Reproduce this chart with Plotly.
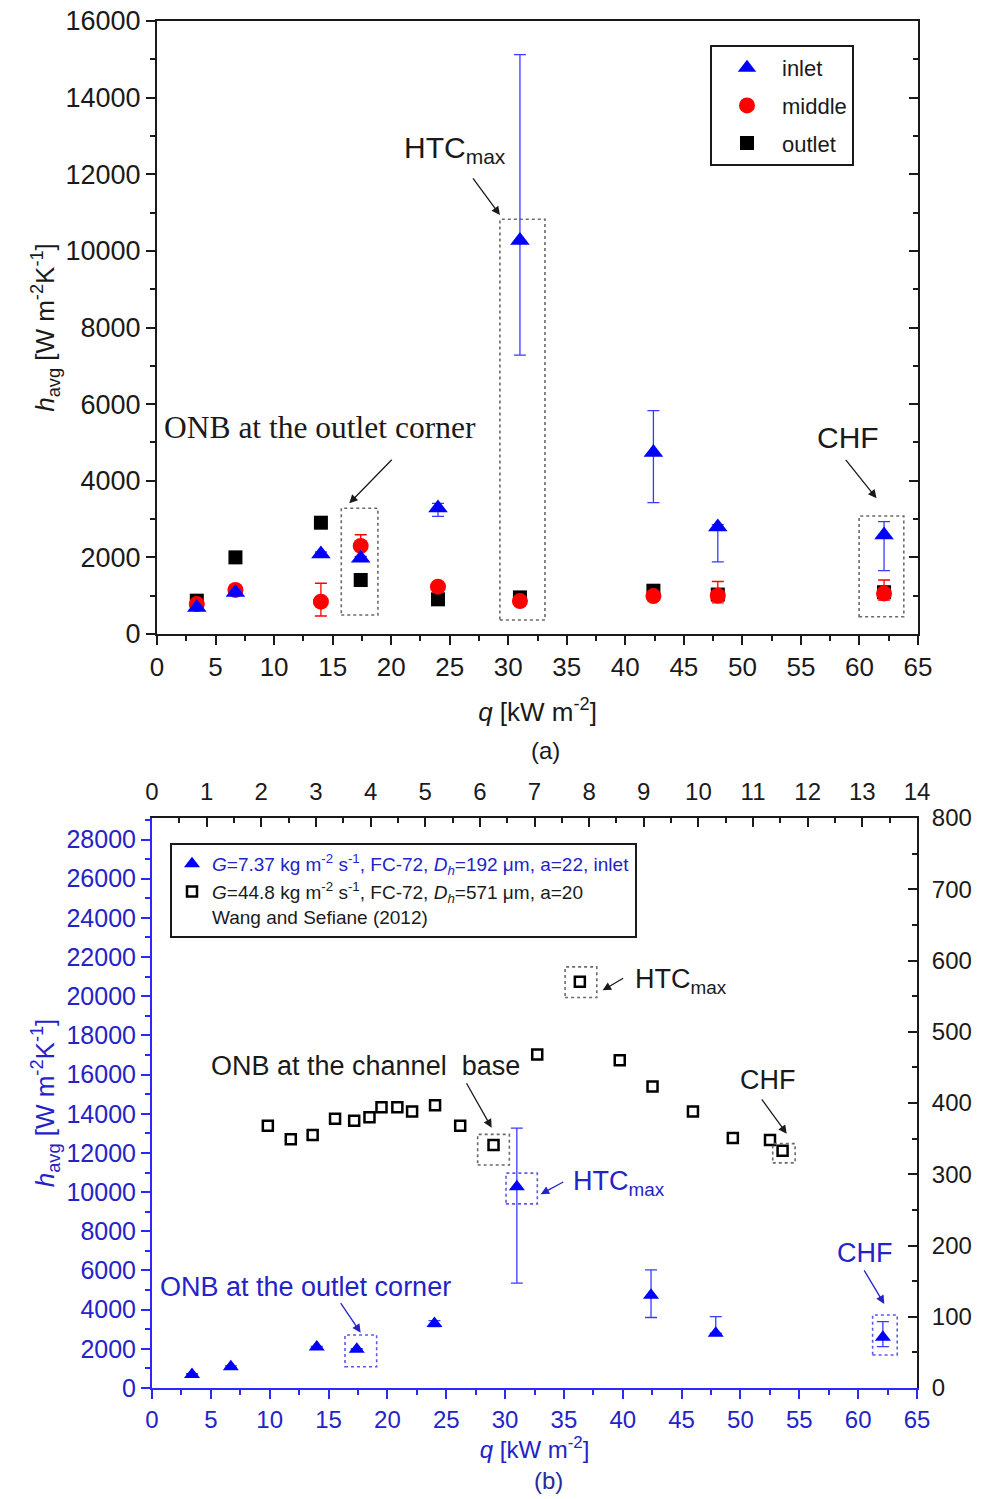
import plotly.graph_objects as go

# ---------------- data ----------------
# Panel (a): present study, heat flux q [kW m-2]
q = [3.4, 6.7, 14.0, 17.4, 24.0, 31.0, 42.4, 47.9, 62.1]
h_inlet = [690, 1085, 2090, 1975, 3290, 10270, 4740, 2795, 2585]
h_inlet_err_plus_a = [50, 50, 50, 50, 120, 4850, 1090, 60, 350]
h_inlet_err_minus_a = [50, 50, 50, 50, 220, 2990, 1310, 910, 930]
h_middle = [780, 1150, 845, 2300, 1235, 860, 990, 1000, 1060]
h_middle_err_plus = [50, 50, 480, 290, 50, 50, 80, 370, 350]
h_middle_err_minus = [50, 50, 375, 290, 50, 50, 80, 190, 175]
h_outlet = [870, 2000, 2905, 1410, 905, 955, 1130, 1030, 1090]

# Panel (b): inlet with its own error bars
h_inlet_err_plus_b = [40, 40, 40, 40, 150, 3000, 1290, 850, 800]
h_inlet_err_minus_b = [40, 40, 40, 40, 150, 4920, 1140, 0, 475]

# Wang and Sefiane (2012): top axis q, right axis h
q_ws = [2.12, 2.54, 2.94, 3.35, 3.70, 3.98, 4.20, 4.49, 4.76, 5.18,
        5.64, 6.25, 7.05, 7.83, 8.56, 9.16, 9.90, 10.63, 11.31, 11.54]
h_ws = [368, 349, 355, 378, 375, 380, 394, 394, 388, 397,
        368, 341, 468, 570, 460, 423, 388, 351, 348, 333]

BLUE = "#0000ff"
BLUE_TXT = "#2323c8"
BLUE_LINE = "#2a2aff"
RED = "#ff0000"
FONT = "Liberation Sans, Arial, sans-serif"
SERIF = "Liberation Serif, Times New Roman, serif"

W, H = 981, 1499
dom_ax = [157 / W, 918 / W]
dom_ay = [1 - 634 / H, 1 - 21 / H]
dom_bx = [152 / W, 917 / W]
dom_by = [1 - 1388 / H, 1 - 818 / H]

fig = go.Figure()

# ---------- panel (a) ----------
fig.add_trace(go.Scatter(
    x=q, y=h_outlet, mode="markers", name="outlet", legend="legend", legendrank=3,
    marker=dict(symbol="square", size=14, color="black"),
    xaxis="x", yaxis="y", legendgroup="o"))
fig.add_trace(go.Scatter(
    x=q, y=h_middle, mode="markers", name="middle", legend="legend", legendrank=2,
    marker=dict(symbol="circle", size=16, color=RED),
    error_y=dict(type="data", array=h_middle_err_plus, arrayminus=h_middle_err_minus,
                 color=RED, thickness=1.3, width=6),
    xaxis="x", yaxis="y", legendgroup="m"))
fig.add_trace(go.Scatter(
    x=q, y=h_inlet, mode="markers", name="inlet", legend="legend", legendrank=1,
    marker=dict(symbol="triangle-up", size=17, color=BLUE),
    error_y=dict(type="data", array=h_inlet_err_plus_a, arrayminus=h_inlet_err_minus_a,
                 color="#3b3bff", thickness=1.3, width=6),
    xaxis="x", yaxis="y", legendgroup="i"))
# empty trace to carry the inner-tick right axis of panel (a)
fig.add_trace(go.Scatter(x=[], y=[], xaxis="x", yaxis="y2", showlegend=False,
                         hoverinfo="skip"))

# ---------- panel (b) ----------
fig.add_trace(go.Scatter(
    x=q, y=h_inlet, mode="markers", legend="legend2",
    name=('<span style="color:#2323c8"><i>G</i>=7.37 kg m<sup>-2</sup> s<sup>-1</sup>, FC-72, '
          '<i>D<sub>h</sub></i>=192 μm, a=22, inlet</span>'),
    marker=dict(symbol="triangle-up", size=14, color=BLUE),
    error_y=dict(type="data", array=h_inlet_err_plus_b, arrayminus=h_inlet_err_minus_b,
                 color="#3b3bff", thickness=1.3, width=6),
    xaxis="x2", yaxis="y3"))
fig.add_trace(go.Scatter(
    x=q_ws, y=h_ws, mode="markers", legend="legend2",
    name=('<i>G</i>=44.8 kg m<sup>-2</sup> s<sup>-1</sup>, FC-72, '
          '<i>D<sub>h</sub></i>=571 μm, a=20<br>Wang and Sefiane (2012)'),
    marker=dict(symbol="square", size=10, color="white", line=dict(color="black", width=2.5)),
    xaxis="x3", yaxis="y4"))

tickfont_a = dict(family=FONT, size=27, color="#1a1a1a")
tickfont_ax = dict(family=FONT, size=26, color="#1a1a1a")
tickfont_b_blue = dict(family=FONT, size=25, color=BLUE_TXT)
tickfont_b_bluex = dict(family=FONT, size=24, color=BLUE_TXT)
tickfont_b_black = dict(family=FONT, size=24, color="#1a1a1a")

fig.update_layout(
    template="none",
    width=W, height=H,
    margin=dict(l=0, r=0, t=0, b=0),
    paper_bgcolor="white", plot_bgcolor="white",
    font=dict(family=FONT, size=20, color="#1a1a1a"),
    xaxis=dict(domain=dom_ax, anchor="y", range=[0, 65], dtick=5, tick0=0,
               showline=True, linecolor="#1a1a1a", linewidth=2, mirror=True,
               ticks="outside", ticklen=9, tickwidth=2, tickcolor="#1a1a1a",
               minor=dict(dtick=2.5, ticks="outside", ticklen=5, tickwidth=1.5, tickcolor="#1a1a1a"),
               showgrid=False, zeroline=False, tickfont=tickfont_ax, automargin=False,
               title=dict(text="<i>q</i> [kW m<sup>-2</sup>]", font=dict(family=FONT, size=26),
                          standoff=22)),
    yaxis=dict(domain=dom_ay, anchor="x", range=[0, 16000], dtick=2000, tick0=0,
               tickformat="d",
               showline=True, linecolor="#1a1a1a", linewidth=2,
               ticks="outside", ticklen=9, tickwidth=2, tickcolor="#1a1a1a",
               minor=dict(dtick=1000, ticks="outside", ticklen=5, tickwidth=1.5, tickcolor="#1a1a1a"),
               showgrid=False, zeroline=False, tickfont=tickfont_a, automargin=False,
               title=dict(text="<i>h</i><sub>avg</sub> [W m<sup>-2</sup>K<sup>-1</sup>]",
                          font=dict(family=FONT, size=26), standoff=3)),
    yaxis2=dict(overlaying="y", side="right", anchor="x", range=[0, 16000], dtick=2000,
                showline=True, linecolor="#1a1a1a", linewidth=2,
                ticks="inside", ticklen=9, tickwidth=2, tickcolor="#1a1a1a",
                minor=dict(dtick=1000, ticks="inside", ticklen=5, tickwidth=1.5, tickcolor="#1a1a1a"),
                showticklabels=False, showgrid=False, zeroline=False, automargin=False),
    # panel (b) bottom / left (blue)
    xaxis2=dict(domain=dom_bx, anchor="y3", range=[0, 65], dtick=5, tick0=0,
                showline=True, linecolor=BLUE_LINE, linewidth=2,
                ticks="outside", ticklen=9, tickwidth=2, tickcolor=BLUE_LINE,
                minor=dict(dtick=2.5, ticks="outside", ticklen=5, tickwidth=1.5, tickcolor=BLUE_LINE),
                showgrid=False, zeroline=False, tickfont=tickfont_b_bluex, automargin=False,
                title=dict(text="<i>q</i> [kW m<sup>-2</sup>]",
                           font=dict(family=FONT, size=24, color=BLUE_TXT), standoff=0)),
    yaxis3=dict(domain=dom_by, anchor="x2", range=[0, 29100], dtick=2000, tick0=0,
                tickformat="d",
                showline=True, linecolor=BLUE_LINE, linewidth=2,
                ticks="outside", ticklen=9, tickwidth=2, tickcolor=BLUE_LINE,
                minor=dict(dtick=1000, ticks="outside", ticklen=5, tickwidth=1.5, tickcolor=BLUE_LINE),
                showgrid=False, zeroline=False, tickfont=tickfont_b_blue, automargin=False,
                title=dict(text="<i>h</i><sub>avg</sub> [W m<sup>-2</sup>K<sup>-1</sup>]",
                           font=dict(family=FONT, size=26, color=BLUE_TXT), standoff=4)),
    # panel (b) top / right (black)
    xaxis3=dict(domain=dom_bx, overlaying="x2", side="top", anchor="y3", range=[0, 14],
                dtick=1, tick0=0, showline=True, linecolor="#1a1a1a", linewidth=2,
                ticks="inside", ticklen=9, tickwidth=2, tickcolor="#1a1a1a",
                minor=dict(dtick=0.5, ticks="inside", ticklen=5, tickwidth=1.5, tickcolor="#1a1a1a"),
                showgrid=False, zeroline=False, tickfont=tickfont_b_black, automargin=False,
                ticklabelstandoff=6),
    yaxis4=dict(domain=dom_by, overlaying="y3", side="right", anchor="x2", range=[0, 800],
                dtick=100, tick0=0, showline=True, linecolor="#1a1a1a", linewidth=2,
                ticks="inside", ticklen=9, tickwidth=2, tickcolor="#1a1a1a",
                minor=dict(dtick=50, ticks="inside", ticklen=5, tickwidth=1.5, tickcolor="#1a1a1a"),
                showgrid=False, zeroline=False, tickfont=tickfont_b_black, automargin=False,
                ticklabelstandoff=8),
    legend=dict(x=710 / W, y=1 - 45 / H, xanchor="left", yanchor="top",
                bgcolor="white", bordercolor="#1a1a1a", borderwidth=2,
                font=dict(family=FONT, size=22, color="#1a1a1a"),
                tracegroupgap=6, itemwidth=60),
    legend2=dict(x=170 / W, y=1 - 843 / H, xanchor="left", yanchor="top",
                 bgcolor="white", bordercolor="#1a1a1a", borderwidth=2,
                 font=dict(family=FONT, size=19, color="#1a1a1a"),
                 tracegroupgap=5, valign="top", itemwidth=30),
)

shapes = []
def box(x0, x1, y0, y1, xref, yref, color):
    shapes.append(dict(type="rect", x0=x0, x1=x1, y0=y0, y1=y1, xref=xref, yref=yref,
                       line=dict(color=color, width=1.6, dash="dot"), layer="above"))

GRAY = "#6a6a6a"
BGRAY = "#5a5ae6"
# panel (a) boxes
box(15.74, 18.87, 496, 3281, "x", "y", GRAY)
box(29.29, 33.14, 365, 10825, "x", "y", GRAY)
box(59.97, 63.79, 452, 3080, "x", "y", GRAY)
# panel (b) boxes (squares: top/right axes)
box(5.96, 6.54, 313, 356, "x3", "y4", GRAY)
box(7.56, 8.14, 548, 591, "x3", "y4", GRAY)
box(11.36, 11.77, 316, 343, "x3", "y4", GRAY)
# panel (b) boxes (triangles: bottom/left axes)
box(30.08, 32.74, 9400, 10970, "x2", "y3", BGRAY)
box(16.4, 19.09, 1088, 2708, "x2", "y3", BGRAY)
box(61.23, 63.32, 1686, 3730, "x2", "y3", BGRAY)

ann = []
def text(x, y, s, xref, yref, size, color="#1a1a1a", family=FONT, xanchor="center"):
    ann.append(dict(x=x, y=y, xref=xref, yref=yref, text=s, showarrow=False,
                    font=dict(family=family, size=size, color=color), xanchor=xanchor,
                    yanchor="middle"))

def arrow(x, y, ax, ay, xref, yref, color="#1a1a1a"):
    ann.append(dict(x=x, y=y, xref=xref, yref=yref, text="", showarrow=True,
                    ax=ax, ay=ay, axref="pixel", ayref="pixel",
                    arrowhead=2, arrowsize=1.3, arrowwidth=1.3, arrowcolor=color))

# panel (a) annotations
text(20.9, 12650, "HTC<sub>max</sub>", "x", "y", 30, xanchor="left")
arrow(29.29, 10937, -28, -38, "x", "y")
text(0.4, 5377, "ONB at the outlet corner", "x", "y", 31.5, family=SERIF, xanchor="left")
arrow(16.42, 3412, 44, -45, "x", "y")
text(59.0, 5116, "CHF", "x", "y", 30)
arrow(61.46, 3542, -32, -40, "x", "y")
ann.append(dict(x=(545 / W), y=1 - 750 / H, xref="paper", yref="paper", text="(a)",
                showarrow=False, yanchor="middle",
                font=dict(family=FONT, size=24, color="#1a1a1a")))

# panel (b) annotations
text(18.18, 16454, "ONB at the channel  base", "x2", "y3", 27)
arrow(28.86, 13286, -26, -46, "x2", "y3")
text(35.6, 10450, "HTC<sub>max</sub>", "x2", "y3", 27, color=BLUE_TXT, xanchor="left")
arrow(33.03, 9897, 24, -13, "x2", "y3", color=BLUE_TXT)
text(13.08, 5161, "ONB at the outlet corner", "x2", "y3", 27, color=BLUE_TXT)
arrow(17.73, 2826, -21, -31, "x2", "y3", color=BLUE_TXT)
text(40.87, 20800, "HTC<sub>max</sub>", "x2", "y3", 27, xanchor="left")
arrow(38.29, 20301, 22, -13, "x2", "y3")
text(52.34, 15738, "CHF", "x2", "y3", 27)
arrow(53.93, 12979, -26, -36, "x2", "y3")
text(60.58, 6898, "CHF", "x2", "y3", 27, color=BLUE_TXT)
arrow(62.22, 4292, -21, -35, "x2", "y3", color=BLUE_TXT)
ann.append(dict(x=(548 / W), y=1 - 1480 / H, xref="paper", yref="paper", text="(b)",
                showarrow=False, yanchor="middle",
                font=dict(family=FONT, size=24, color="#2a2a9a")))

fig.update_layout(shapes=shapes, annotations=ann)

fig.write_html("out.html")
